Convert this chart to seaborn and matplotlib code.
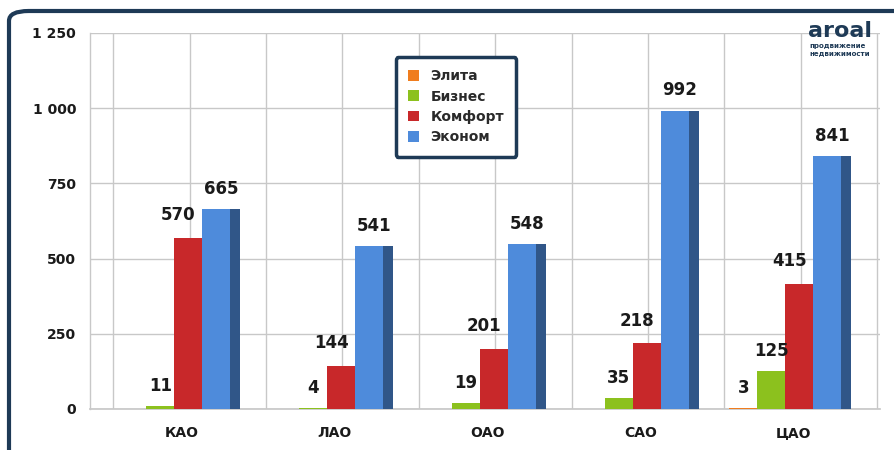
import matplotlib
matplotlib.use("Agg")
import matplotlib.pyplot as plt
import seaborn as sns
import pandas as pd
import numpy as np
from matplotlib.patches import Rectangle, FancyBboxPatch
import matplotlib.colors as mcolors

categories = ["КАО", "ЛАО", "ОАО", "САО", "ЦАО"]
series = ["Элита", "Бизнес", "Комфорт", "Эконом"]
elita = [0, 0, 0, 0, 3]
biznes = [11, 4, 19, 35, 125]
komfort = [570, 144, 201, 218, 415]
ekonom = [665, 541, 548, 992, 841]
yticks = [0, 250, 500, 750, 1000, 1250]
ytick_labels = ["0", "250", "500", "750", "1 000", "1 250"]
colors = ["#F07D1E", "#8CC11E", "#C8282A", "#4E8BDB"]

df = pd.DataFrame({
    "cat": categories * 4,
    "series": [s for s in series for _ in categories],
    "val": elita + biznes + komfort + ekonom,
})

sns.set_theme(style="white")
plt.rcParams["font.family"] = ["DejaVu Sans"]

fig = plt.figure(figsize=(8.95, 4.5), dpi=100)
fig.patch.set_facecolor("white")

# outer rounded frame
frame = FancyBboxPatch((9 / 895, -0.2), 1.2, 1.2 - 11 / 450,
                       boxstyle="round,pad=0,rounding_size=0.022",
                       transform=fig.transFigure, facecolor="none",
                       edgecolor="#1E3A56", linewidth=3, zorder=-1)
fig.patches.append(frame)

ax = fig.add_axes([90 / 895, 41 / 450, 790 / 895, 376 / 450])
ax.set_facecolor("none")

sns.barplot(data=df, x="cat", y="val", hue="series", order=categories,
            hue_order=series, palette=colors, width=0.733, gap=0,
            saturation=1, ax=ax, legend=True, edgecolor="none", linewidth=0)

shadow_w = 0.065
label_dx = [0.0, 0.0, -0.065, 0.0325]
label_dy = [8, 8, 10, 8]
for si, cont in enumerate(ax.containers):
    base = colors[si]
    dark = tuple(np.array(mcolors.to_rgb(base)) * 0.62)
    for pi, p in enumerate(cont.patches):
        z = 3 + si * 0.1
        p.set_zorder(z)
        h = p.get_height()
        x = p.get_x()
        w = p.get_width()
        if h > 0:
            sh = Rectangle((x + w, 0), shadow_w, h, facecolor=dark,
                           edgecolor="none", zorder=z + 0.05)
            ax.add_patch(sh)
            ax.annotate(f"{int(h)}", (x + w / 2 + label_dx[si], h),
                        xytext=(0, label_dy[si]), textcoords="offset points",
                        ha="center", va="bottom", fontsize=12,
                        fontweight="bold", color="#1a1a1a", zorder=6)

ax.set_xlim(-0.553, 4.619)
ax.set_ylim(0, 1250)
ax.set_yticks(yticks)
ax.set_yticklabels(ytick_labels, fontsize=10, fontweight="bold", color="#1a1a1a")
ax.set_xticks([i + 0.05 for i in range(len(categories))])
ax.set_xticklabels(categories, fontsize=10, fontweight="bold", color="#1a1a1a")
ax.set_xticks([i + 0.46 for i in range(-1, 5)], minor=True)
ax.tick_params(axis="x", which="major", length=0, pad=12)
ax.tick_params(axis="x", which="minor", length=3, color="#c8c8c8", width=1)
ax.tick_params(axis="y", length=4, color="#c8c8c8", pad=6)
ax.set_xlabel("")
ax.set_ylabel("")

ax.grid(axis="y", color="#c8c8c8", linewidth=1, zorder=0)
for i in range(-1, 5):
    for off in (0.1, 0.6):
        xv = i + off
        if -0.553 < xv < 4.619:
            ax.axvline(xv, color="#c8c8c8", linewidth=1, zorder=0)
ax.set_axisbelow(True)
for s in ["top", "right"]:
    ax.spines[s].set_visible(False)
ax.spines["left"].set_color("#c8c8c8")
ax.spines["bottom"].set_color("#c8c8c8")
ax.spines["left"].set_linewidth(1)

leg = ax.legend(loc="upper left", bbox_to_anchor=(0.378, 0.955), frameon=True,
                fancybox=True, handlelength=0.8, handleheight=0.8,
                handletextpad=0.8, labelspacing=0.45, borderpad=0.9,
                prop={"weight": "bold", "size": 10})
leg.get_frame().set_edgecolor("#1E3A56")
leg.get_frame().set_linewidth(2.5)
leg.get_frame().set_facecolor("white")
leg.get_frame().set_alpha(1)
leg.set_zorder(10)
for t in leg.get_texts():
    t.set_color("#2a2a2a")

# logo
fig.text(808 / 895, 1 - 37 / 450, "aroal", fontsize=16, fontweight="bold",
         color="#1E3A56", ha="left", va="baseline")
fig.text(809 / 895, 1 - 48 / 450, "продвижение", fontsize=5, color="#1E3A56",
         ha="left", va="baseline", fontweight="bold")
fig.text(809 / 895, 1 - 55 / 450, "недвижимости", fontsize=5, color="#1E3A56",
         ha="left", va="baseline", fontweight="bold")

fig.savefig("out.png", dpi=100)
